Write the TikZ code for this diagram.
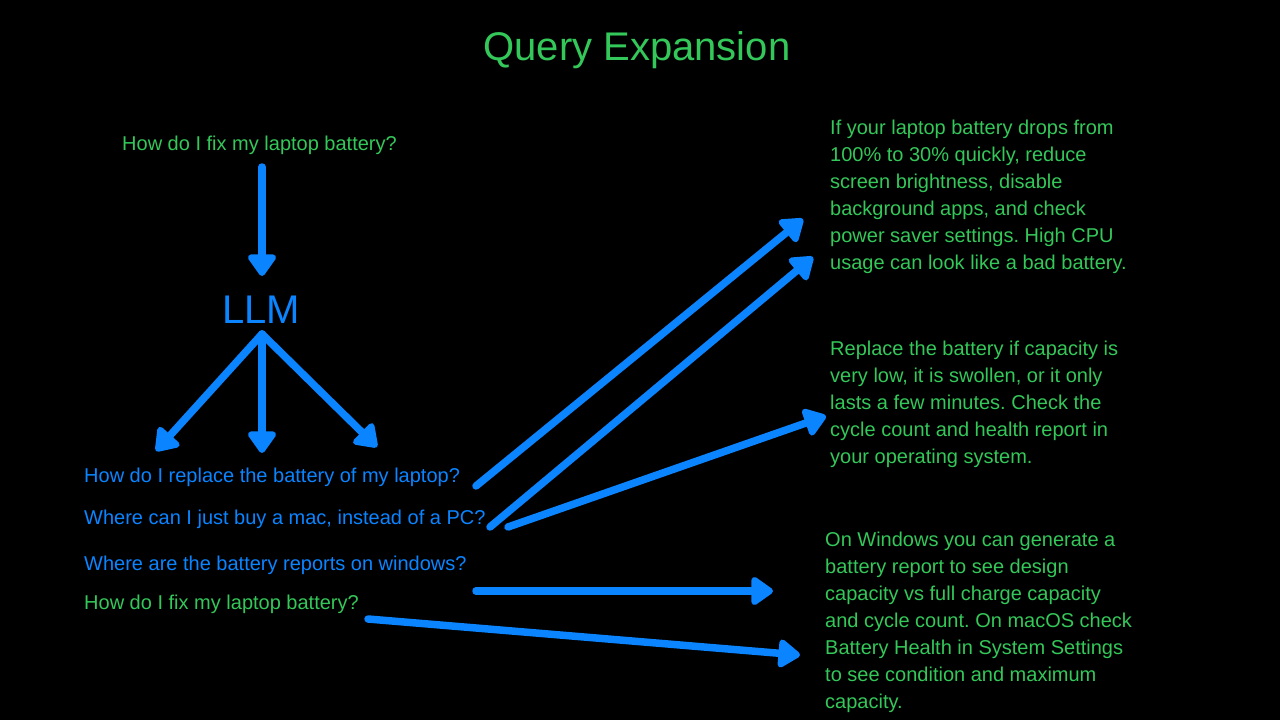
\documentclass[tikz,border=0pt]{standalone}
\usepackage{fontspec}
\setmainfont{Liberation Sans}
\usetikzlibrary{arrows.meta,calc}
\definecolor{ggreen}{RGB}{52,199,89}
\definecolor{bblue}{RGB}{10,132,255}
\frenchspacing
\begin{document}
\begin{tikzpicture}[x=1pt,y=-1pt,
  lbl/.style={inner sep=0pt, anchor=base west, font=\fontsize{20}{27}\selectfont},
  grn/.style={lbl,text=ggreen},
  blu/.style={lbl,text=bblue},
  big/.style={inner sep=0pt, anchor=base, font=\fontsize{40}{48}\selectfont},
  para/.style={inner sep=0pt, anchor=north west, align=left, text=ggreen, font=\fontsize{20}{27}\selectfont},
  arr/.style={draw, color=bblue, line width=7.5pt, line cap=round, -{Triangle[round,length=24pt,width=32pt,fill=bblue]}}]
\fill[black] (0,0) rectangle (1280,720);
\useasboundingbox (0,0) rectangle (1280,720);

\node[big, text=ggreen] (title) at (637,60) {Query Expansion};
\node[grn] (q0) at (122,150) {How do I fix my laptop battery?};
\node[big, text=bblue] (llm) at (261,323) {LLM};

\node[blu] (q1) at (84,482) {How do I replace the battery of my laptop?};
\node[blu] (q2) at (84,524) {Where can I just buy a mac, instead of a PC?};
\node[blu] (q3) at (84,570) {Where are the battery reports on windows?};
\node[grn] (q4) at (84,609) {How do I fix my laptop battery?};

\node[para] (a1) at (830,120) {If your laptop battery drops from\\100\% to 30\% quickly, reduce\\screen brightness, disable\\background apps, and check\\power saver settings. High CPU\\usage can look like a bad battery.};
\node[para] (a2) at (830,341) {Replace the battery if capacity is\\very low, it is swollen, or it only\\lasts a few minutes. Check the\\cycle count and health report in\\your operating system.};
\node[para] (a3) at (825,532) {On Windows you can generate a\\battery report to see design\\capacity vs full charge capacity\\and cycle count. On macOS check\\Battery Health in System Settings\\to see condition and maximum\\capacity.};

% connector end points
\coordinate (q0out) at (262,167);
\coordinate (llmin) at (262,276);
\coordinate (llmout) at (262,334);
\coordinate (q1in) at (156,451);
\coordinate (q2in) at (262,453);
\coordinate (q3in) at (377,447);
\coordinate (q1out) at (476,486);
\coordinate (q2outa) at (490,527);
\coordinate (q2outb) at (508,527);
\coordinate (q3out) at (476,591);
\coordinate (q4out) at (368,619);
\coordinate (a1ina) at (803,219);
\coordinate (a1inb) at (813,257);
\coordinate (a2in) at (826,416);
\coordinate (a3ina) at (773,591);
\coordinate (a3inb) at (800,655);

\draw[arr] (q0out) -- (llmin);
\draw[arr] (llmout) -- (q1in);
\draw[arr] (llmout) -- (q2in);
\draw[arr] (llmout) -- (q3in);
\draw[arr] (q1out) -- (a1ina);
\draw[arr] (q2outa) -- (a1inb);
\draw[arr] (q2outb) -- (a2in);
\draw[arr] (q3out) -- (a3ina);
\draw[arr] (q4out) -- (a3inb);
\end{tikzpicture}
\end{document}
